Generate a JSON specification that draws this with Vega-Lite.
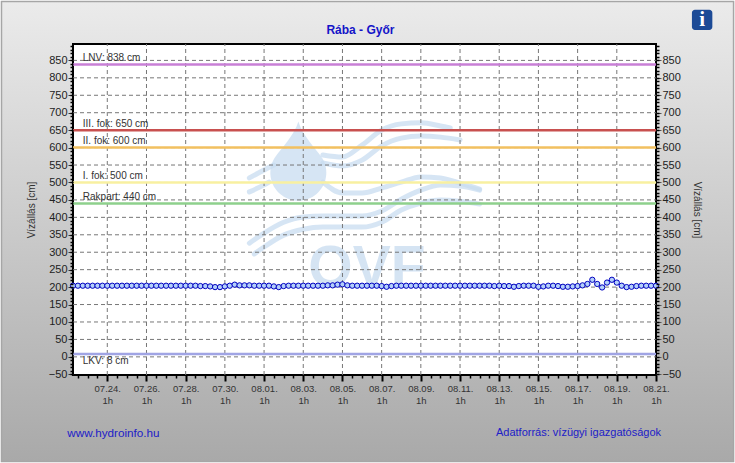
{
  "$schema": "https://vega.github.io/schema/vega-lite/v6.json",
  "width": 583,
  "height": 331,
  "autosize": "none",
  "padding": {"left": 73, "top": 44, "right": 79, "bottom": 88},
  "background": "#ffffff",
  "config": {
    "font": "Liberation Sans",
    "view": {"stroke": null},
    "axis": {"labelFont": "Liberation Sans", "titleFont": "Liberation Sans", "labelOverlap": false, "labelFlush": false, "domain": false, "grid": false}
  },
  "datasets": {
    "series": [
      {"t":"2023-07-22T07:00:00","v":204},{"t":"2023-07-22T13:00:00","v":204},{"t":"2023-07-22T19:00:00","v":204},
      {"t":"2023-07-23T01:00:00","v":204},{"t":"2023-07-23T07:00:00","v":204},{"t":"2023-07-23T13:00:00","v":204},{"t":"2023-07-23T19:00:00","v":204},
      {"t":"2023-07-24T01:00:00","v":204},{"t":"2023-07-24T07:00:00","v":204},{"t":"2023-07-24T13:00:00","v":204},{"t":"2023-07-24T19:00:00","v":204},
      {"t":"2023-07-25T01:00:00","v":204},{"t":"2023-07-25T07:00:00","v":204},{"t":"2023-07-25T13:00:00","v":204},{"t":"2023-07-25T19:00:00","v":204},
      {"t":"2023-07-26T01:00:00","v":204},{"t":"2023-07-26T07:00:00","v":204},{"t":"2023-07-26T13:00:00","v":204},{"t":"2023-07-26T19:00:00","v":204},
      {"t":"2023-07-27T01:00:00","v":204},{"t":"2023-07-27T07:00:00","v":204},{"t":"2023-07-27T13:00:00","v":204},{"t":"2023-07-27T19:00:00","v":204},
      {"t":"2023-07-28T01:00:00","v":204},{"t":"2023-07-28T07:00:00","v":204},{"t":"2023-07-28T13:00:00","v":204},{"t":"2023-07-28T19:00:00","v":203},
      {"t":"2023-07-29T01:00:00","v":203},{"t":"2023-07-29T07:00:00","v":202},{"t":"2023-07-29T13:00:00","v":200},{"t":"2023-07-29T19:00:00","v":200},
      {"t":"2023-07-30T01:00:00","v":202},{"t":"2023-07-30T07:00:00","v":204},{"t":"2023-07-30T13:00:00","v":207},{"t":"2023-07-30T19:00:00","v":205},
      {"t":"2023-07-31T01:00:00","v":205},{"t":"2023-07-31T07:00:00","v":205},{"t":"2023-07-31T13:00:00","v":204},{"t":"2023-07-31T19:00:00","v":204},
      {"t":"2023-08-01T01:00:00","v":204},{"t":"2023-08-01T07:00:00","v":204},{"t":"2023-08-01T13:00:00","v":202},{"t":"2023-08-01T19:00:00","v":200},
      {"t":"2023-08-02T01:00:00","v":203},{"t":"2023-08-02T07:00:00","v":204},{"t":"2023-08-02T13:00:00","v":204},{"t":"2023-08-02T19:00:00","v":204},
      {"t":"2023-08-03T01:00:00","v":204},{"t":"2023-08-03T07:00:00","v":204},{"t":"2023-08-03T13:00:00","v":204},{"t":"2023-08-03T19:00:00","v":204},
      {"t":"2023-08-04T01:00:00","v":204},{"t":"2023-08-04T07:00:00","v":205},{"t":"2023-08-04T13:00:00","v":205},{"t":"2023-08-04T19:00:00","v":207},
      {"t":"2023-08-05T01:00:00","v":208},{"t":"2023-08-05T07:00:00","v":205},{"t":"2023-08-05T13:00:00","v":204},{"t":"2023-08-05T19:00:00","v":204},
      {"t":"2023-08-06T01:00:00","v":204},{"t":"2023-08-06T07:00:00","v":204},{"t":"2023-08-06T13:00:00","v":204},{"t":"2023-08-06T19:00:00","v":204},
      {"t":"2023-08-07T01:00:00","v":203},{"t":"2023-08-07T07:00:00","v":201},{"t":"2023-08-07T13:00:00","v":203},{"t":"2023-08-07T19:00:00","v":204},
      {"t":"2023-08-08T01:00:00","v":204},{"t":"2023-08-08T07:00:00","v":204},{"t":"2023-08-08T13:00:00","v":204},{"t":"2023-08-08T19:00:00","v":204},
      {"t":"2023-08-09T01:00:00","v":204},{"t":"2023-08-09T07:00:00","v":204},{"t":"2023-08-09T13:00:00","v":204},{"t":"2023-08-09T19:00:00","v":204},
      {"t":"2023-08-10T01:00:00","v":204},{"t":"2023-08-10T07:00:00","v":204},{"t":"2023-08-10T13:00:00","v":204},{"t":"2023-08-10T19:00:00","v":204},
      {"t":"2023-08-11T01:00:00","v":204},{"t":"2023-08-11T07:00:00","v":204},{"t":"2023-08-11T13:00:00","v":204},{"t":"2023-08-11T19:00:00","v":204},
      {"t":"2023-08-12T01:00:00","v":204},{"t":"2023-08-12T07:00:00","v":204},{"t":"2023-08-12T13:00:00","v":204},{"t":"2023-08-12T19:00:00","v":203},
      {"t":"2023-08-13T01:00:00","v":204},{"t":"2023-08-13T07:00:00","v":203},{"t":"2023-08-13T13:00:00","v":203},{"t":"2023-08-13T19:00:00","v":201},
      {"t":"2023-08-14T01:00:00","v":203},{"t":"2023-08-14T07:00:00","v":204},{"t":"2023-08-14T13:00:00","v":204},{"t":"2023-08-14T19:00:00","v":204},
      {"t":"2023-08-15T01:00:00","v":201},{"t":"2023-08-15T07:00:00","v":202},{"t":"2023-08-15T13:00:00","v":204},{"t":"2023-08-15T19:00:00","v":204},
      {"t":"2023-08-16T01:00:00","v":203},{"t":"2023-08-16T07:00:00","v":201},{"t":"2023-08-16T13:00:00","v":201},{"t":"2023-08-16T19:00:00","v":202},
      {"t":"2023-08-17T01:00:00","v":203},{"t":"2023-08-17T07:00:00","v":205},{"t":"2023-08-17T13:00:00","v":209},{"t":"2023-08-17T19:00:00","v":221},
      {"t":"2023-08-18T01:00:00","v":209},{"t":"2023-08-18T07:00:00","v":199},{"t":"2023-08-18T13:00:00","v":213},{"t":"2023-08-18T19:00:00","v":221},
      {"t":"2023-08-19T01:00:00","v":213},{"t":"2023-08-19T07:00:00","v":204},{"t":"2023-08-19T13:00:00","v":200},{"t":"2023-08-19T19:00:00","v":201},
      {"t":"2023-08-20T01:00:00","v":203},{"t":"2023-08-20T07:00:00","v":204},{"t":"2023-08-20T13:00:00","v":204},{"t":"2023-08-20T19:00:00","v":204},
      {"t":"2023-08-21T01:00:00","v":204}
    ],
    "levels": [
      {"name":"LNV: 838 cm","v":838,"t":"2023-07-22T07:00:00","t2":"2023-08-21T01:00:00"},
      {"name":"III. fok: 650 cm","v":650,"t":"2023-07-22T07:00:00","t2":"2023-08-21T01:00:00"},
      {"name":"II. fok: 600 cm","v":600,"t":"2023-07-22T07:00:00","t2":"2023-08-21T01:00:00"},
      {"name":"I. fok: 500 cm","v":500,"t":"2023-07-22T07:00:00","t2":"2023-08-21T01:00:00"},
      {"name":"Rakpart: 440 cm","v":440,"t":"2023-07-22T07:00:00","t2":"2023-08-21T01:00:00"},
      {"name":"LKV: 8 cm","v":8,"t":"2023-07-22T07:00:00","t2":"2023-08-21T01:00:00"}
    ],
    "levelLabels": [
      {"name":"LNV: 838 cm","v":838,"t":"2023-07-22T19:00:00"},
      {"name":"III. fok: 650 cm","v":650,"t":"2023-07-22T19:00:00"},
      {"name":"II. fok: 600 cm","v":600,"t":"2023-07-22T19:00:00"},
      {"name":"I. fok: 500 cm","v":500,"t":"2023-07-22T19:00:00"},
      {"name":"Rakpart: 440 cm","v":440,"t":"2023-07-22T19:00:00"},
      {"name":"LKV: 8 cm","v":8,"t":"2023-07-22T19:00:00"}
    ],
    "gridY": [
      {"v":0,"t":"2023-07-22T07:00:00","t2":"2023-08-21T01:00:00"},{"v":50,"t":"2023-07-22T07:00:00","t2":"2023-08-21T01:00:00"},{"v":100,"t":"2023-07-22T07:00:00","t2":"2023-08-21T01:00:00"},{"v":150,"t":"2023-07-22T07:00:00","t2":"2023-08-21T01:00:00"},{"v":200,"t":"2023-07-22T07:00:00","t2":"2023-08-21T01:00:00"},{"v":250,"t":"2023-07-22T07:00:00","t2":"2023-08-21T01:00:00"},{"v":300,"t":"2023-07-22T07:00:00","t2":"2023-08-21T01:00:00"},{"v":350,"t":"2023-07-22T07:00:00","t2":"2023-08-21T01:00:00"},{"v":400,"t":"2023-07-22T07:00:00","t2":"2023-08-21T01:00:00"},{"v":450,"t":"2023-07-22T07:00:00","t2":"2023-08-21T01:00:00"},{"v":500,"t":"2023-07-22T07:00:00","t2":"2023-08-21T01:00:00"},{"v":550,"t":"2023-07-22T07:00:00","t2":"2023-08-21T01:00:00"},{"v":600,"t":"2023-07-22T07:00:00","t2":"2023-08-21T01:00:00"},{"v":650,"t":"2023-07-22T07:00:00","t2":"2023-08-21T01:00:00"},{"v":700,"t":"2023-07-22T07:00:00","t2":"2023-08-21T01:00:00"},{"v":750,"t":"2023-07-22T07:00:00","t2":"2023-08-21T01:00:00"},{"v":800,"t":"2023-07-22T07:00:00","t2":"2023-08-21T01:00:00"},{"v":850,"t":"2023-07-22T07:00:00","t2":"2023-08-21T01:00:00"}
    ],
    "gridX": [
      {"t":"2023-07-24T01:00:00","v":-52,"v2":897},{"t":"2023-07-26T01:00:00","v":-52,"v2":897},{"t":"2023-07-28T01:00:00","v":-52,"v2":897},{"t":"2023-07-30T01:00:00","v":-52,"v2":897},{"t":"2023-08-01T01:00:00","v":-52,"v2":897},{"t":"2023-08-03T01:00:00","v":-52,"v2":897},{"t":"2023-08-05T01:00:00","v":-52,"v2":897},{"t":"2023-08-07T01:00:00","v":-52,"v2":897},{"t":"2023-08-09T01:00:00","v":-52,"v2":897},{"t":"2023-08-11T01:00:00","v":-52,"v2":897},{"t":"2023-08-13T01:00:00","v":-52,"v2":897},{"t":"2023-08-15T01:00:00","v":-52,"v2":897},{"t":"2023-08-17T01:00:00","v":-52,"v2":897},{"t":"2023-08-19T01:00:00","v":-52,"v2":897}
    ],
    "waves": [
      {"w":"A","t":"2023-08-04T01:00:00","v":579},{"w":"A","t":"2023-08-05T01:00:00","v":573},{"w":"A","t":"2023-08-06T01:00:00","v":607},{"w":"A","t":"2023-08-07T01:00:00","v":650},{"w":"A","t":"2023-08-08T01:00:00","v":668},{"w":"A","t":"2023-08-09T01:00:00","v":671},{"w":"A","t":"2023-08-10T01:00:00","v":662},{"w":"A","t":"2023-08-10T13:00:00","v":656},
      {"w":"B","t":"2023-08-04T01:00:00","v":556},{"w":"B","t":"2023-08-05T01:00:00","v":547},{"w":"B","t":"2023-08-06T01:00:00","v":564},{"w":"B","t":"2023-08-07T01:00:00","v":605},{"w":"B","t":"2023-08-08T01:00:00","v":627},{"w":"B","t":"2023-08-09T01:00:00","v":633},{"w":"B","t":"2023-08-10T01:00:00","v":630},{"w":"B","t":"2023-08-11T01:00:00","v":622},
      {"w":"C","t":"2023-08-04T01:00:00","v":501},{"w":"C","t":"2023-08-05T01:00:00","v":470},{"w":"C","t":"2023-08-06T01:00:00","v":470},{"w":"C","t":"2023-08-07T01:00:00","v":484},{"w":"C","t":"2023-08-08T01:00:00","v":501},{"w":"C","t":"2023-08-09T01:00:00","v":516},{"w":"C","t":"2023-08-10T01:00:00","v":513},{"w":"C","t":"2023-08-11T01:00:00","v":498},{"w":"C","t":"2023-08-12T01:00:00","v":481},
      {"w":"D","t":"2023-07-31T07:00:00","v":326},{"w":"D","t":"2023-08-01T01:00:00","v":355},{"w":"D","t":"2023-08-02T01:00:00","v":386},{"w":"D","t":"2023-08-03T01:00:00","v":401},{"w":"D","t":"2023-08-04T01:00:00","v":404},{"w":"D","t":"2023-08-05T01:00:00","v":404},{"w":"D","t":"2023-08-06T01:00:00","v":404},{"w":"D","t":"2023-08-07T01:00:00","v":418},{"w":"D","t":"2023-08-08T01:00:00","v":452},{"w":"D","t":"2023-08-09T01:00:00","v":478},{"w":"D","t":"2023-08-10T01:00:00","v":493},{"w":"D","t":"2023-08-11T01:00:00","v":490},{"w":"D","t":"2023-08-12T01:00:00","v":478},
      {"w":"E","t":"2023-07-31T13:00:00","v":295},{"w":"E","t":"2023-08-01T01:00:00","v":315},{"w":"E","t":"2023-08-02T01:00:00","v":349},{"w":"E","t":"2023-08-03T01:00:00","v":366},{"w":"E","t":"2023-08-04T01:00:00","v":372},{"w":"E","t":"2023-08-05T01:00:00","v":372},{"w":"E","t":"2023-08-06T01:00:00","v":372},{"w":"E","t":"2023-08-07T01:00:00","v":386},{"w":"E","t":"2023-08-08T01:00:00","v":421},{"w":"E","t":"2023-08-09T01:00:00","v":441},{"w":"E","t":"2023-08-10T01:00:00","v":450},{"w":"E","t":"2023-08-11T01:00:00","v":446},{"w":"E","t":"2023-08-12T01:00:00","v":438},
      {"w":"F","t":"2023-07-31T07:00:00","v":513},{"w":"F","t":"2023-08-01T01:00:00","v":536},{"w":"F","t":"2023-08-01T13:00:00","v":550},
      {"w":"G","t":"2023-07-31T07:00:00","v":473},{"w":"G","t":"2023-08-01T01:00:00","v":493},{"w":"G","t":"2023-08-01T07:00:00","v":501}
    ]
  },
  "data": {"name": "series"},
  "encoding": {
    "x": {"field": "t", "type": "temporal", "scale": {"domain": ["2023-07-22T07:00:00", "2023-08-21T01:00:00"]}, "axis": null},
    "y": {"field": "v", "type": "quantitative", "scale": {"domain": [-52, 897], "nice": false, "zero": false}, "axis": null}
  },
  "layer": [
    {
      "data": {"values": [{"t": "2023-07-18T15:24:00", "t2": "2023-08-25T00:00:00", "v": 1019, "v2": -300}]},
      "mark": {"type": "rect", "stroke": "#a6a6a6", "strokeWidth": 1.5,
        "fill": {"gradient": "linear", "x1": 0, "y1": 0, "x2": 0, "y2": 1, "stops": [{"offset": 0, "color": "#ebebeb"}, {"offset": 1, "color": "#a9a9a9"}]}},
      "encoding": {"x2": {"field": "t2"}, "y2": {"field": "v2"}}
    },
    {
      "data": {"values": [{"t": "2023-07-22T07:00:00", "t2": "2023-08-21T01:00:00", "v": 897, "v2": -52}]},
      "mark": {"type": "rect", "fill": "#ffffff", "stroke": "#000000", "strokeWidth": 2},
      "encoding": {"x2": {"field": "t2"}, "y2": {"field": "v2"}}
    },
    {
      "data": {"name": "waves"},
      "mark": {"type": "line", "stroke": "#c8dcf0", "opacity": 0.75, "strokeWidth": 5, "interpolate": "monotone", "strokeCap": "round"},
      "encoding": {
        "detail": {"field": "w"},
        "x": {"field": "t", "type": "temporal", "scale": {"domain": ["2023-07-22T07:00:00", "2023-08-21T01:00:00"]},
          "axis": {"orient": "bottom", "title": null, "zindex": 1,
            "values": ["2023-07-24T01:00:00","2023-07-26T01:00:00","2023-07-28T01:00:00","2023-07-30T01:00:00","2023-08-01T01:00:00","2023-08-03T01:00:00","2023-08-05T01:00:00","2023-08-07T01:00:00","2023-08-09T01:00:00","2023-08-11T01:00:00","2023-08-13T01:00:00","2023-08-15T01:00:00","2023-08-17T01:00:00","2023-08-19T01:00:00","2023-08-21T01:00:00"],
            "labelExpr": "[timeFormat(datum.value, '%m.%d.'), '1h']", "labelLineHeight": 12, "labelFontSize": 9.5, "labelColor": "#333333", "labelPadding": 2, "labelBaseline": "top",
            "tickSize": 6, "tickWidth": 2, "tickColor": "#000000"}},
        "y": {"field": "v", "type": "quantitative", "scale": {"domain": [-52, 897], "nice": false, "zero": false},
          "axis": {"orient": "left", "title": "Vízállás [cm]", "zindex": 1, "titleFontSize": 10, "titleFontWeight": "normal", "titleColor": "#333333", "titleX": -42, "titleY": 165.5, "titleBaseline": "middle",
            "values": [-50,0,50,100,150,200,250,300,350,400,450,500,550,600,650,700,750,800,850], "format": "d", "labelFontSize": 11, "labelColor": "#222222", "labelPadding": 1, "tickSize": 5, "tickWidth": 1, "tickColor": "#333333"}}
      }
    },
    {
      "data": {"values": [{"t": "2023-08-02T19:00:00", "v": 530}]},
      "mark": {"type": "point", "filled": true, "fill": "#c8dcf0", "opacity": 0.75, "stroke": null, "size": 3136, "shape": "M0,-1.8 C0.15,-1.3 0.6,-0.85 0.85,-0.5 A1,1 0 1 1 -0.85,-0.5 C-0.6,-0.85 -0.15,-1.3 0,-1.8 Z"},
      "encoding": {
        "x": {"field": "t", "type": "temporal", "scale": {"domain": ["2023-07-22T07:00:00", "2023-08-21T01:00:00"]},
          "axis": {"orient": "bottom", "title": null, "zindex": 1, "labels": false, "tickSize": 3, "tickWidth": 1.5, "tickColor": "#000000",
            "values": ["2023-07-22T13:00:00","2023-07-23T01:00:00","2023-07-23T13:00:00","2023-07-24T13:00:00","2023-07-25T01:00:00","2023-07-25T13:00:00","2023-07-26T13:00:00","2023-07-27T01:00:00","2023-07-27T13:00:00","2023-07-28T13:00:00","2023-07-29T01:00:00","2023-07-29T13:00:00","2023-07-30T13:00:00","2023-07-31T01:00:00","2023-07-31T13:00:00","2023-08-01T13:00:00","2023-08-02T01:00:00","2023-08-02T13:00:00","2023-08-03T13:00:00","2023-08-04T01:00:00","2023-08-04T13:00:00","2023-08-05T13:00:00","2023-08-06T01:00:00","2023-08-06T13:00:00","2023-08-07T13:00:00","2023-08-08T01:00:00","2023-08-08T13:00:00","2023-08-09T13:00:00","2023-08-10T01:00:00","2023-08-10T13:00:00","2023-08-11T13:00:00","2023-08-12T01:00:00","2023-08-12T13:00:00","2023-08-13T13:00:00","2023-08-14T01:00:00","2023-08-14T13:00:00","2023-08-15T13:00:00","2023-08-16T01:00:00","2023-08-16T13:00:00","2023-08-17T13:00:00","2023-08-18T01:00:00","2023-08-18T13:00:00","2023-08-19T13:00:00","2023-08-20T01:00:00","2023-08-20T13:00:00"]}},
        "y": {"field": "v", "type": "quantitative", "scale": {"domain": [-52, 897], "nice": false, "zero": false},
          "axis": {"orient": "right", "title": "Vízállás [cm]", "zindex": 1, "titleFontSize": 10, "titleFontWeight": "normal", "titleColor": "#333333", "titleAngle": 90, "titleX": 40, "titleY": 165.5, "titleBaseline": "middle",
            "values": [-50,0,50,100,150,200,250,300,350,400,450,500,550,600,650,700,750,800,850], "format": "d", "labelFontSize": 11, "labelColor": "#222222", "labelPadding": 1, "tickSize": 5, "tickWidth": 1, "tickColor": "#555555"}}
      }
    },
    {
      "data": {"values": [{"label": "OVF", "t": "2023-08-06T07:00:00", "v": 203}]},
      "mark": {"type": "text", "fontSize": 57, "fontWeight": "bold", "fill": "#c8dcf0", "opacity": 0.75, "align": "center", "baseline": "alphabetic"},
      "encoding": {
        "text": {"field": "label"},
        "y": {"field": "v", "type": "quantitative", "scale": {"domain": [-52, 897], "nice": false, "zero": false},
          "axis": {"orient": "left", "title": null, "zindex": 1, "labels": false, "tickSize": 3, "tickWidth": 1.5, "tickColor": "#000000",
            "values": [-50,-40,-30,-20,-10,0,10,20,30,40,50,60,70,80,90,100,110,120,130,140,150,160,170,180,190,200,210,220,230,240,250,260,270,280,290,300,310,320,330,340,350,360,370,380,390,400,410,420,430,440,450,460,470,480,490,500,510,520,530,540,550,560,570,580,590,600,610,620,630,640,650,660,670,680,690,700,710,720,730,740,750,760,770,780,790,800,810,820,830,840,850,860,870,880,890]}}
      }
    },
    {
      "data": {"name": "gridY"},
      "mark": {"type": "rule", "stroke": "#777777", "strokeWidth": 1, "strokeDash": [4, 3]},
      "encoding": {"x2": {"field": "t2"}}
    },
    {
      "data": {"name": "gridX"},
      "mark": {"type": "rule", "stroke": "#777777", "strokeWidth": 1, "strokeDash": [4, 3]},
      "encoding": {"y2": {"field": "v2"}}
    },
    {
      "data": {"name": "levels"},
      "mark": {"type": "rule", "strokeWidth": 2.5},
      "encoding": {
        "x2": {"field": "t2"},
        "color": {"field": "name", "type": "nominal", "legend": null,
          "scale": {"domain": ["LNV: 838 cm","III. fok: 650 cm","II. fok: 600 cm","I. fok: 500 cm","Rakpart: 440 cm","LKV: 8 cm"], "range": ["#c87fd6","#c8504f","#f2c060","#f8f0a0","#8ed08c","#a0a4e4"]}},
        "y": {"field": "v", "type": "quantitative", "scale": {"domain": [-52, 897], "nice": false, "zero": false},
          "axis": {"orient": "right", "title": null, "zindex": 1, "labels": false, "tickSize": 3, "tickWidth": 1.5, "tickColor": "#000000",
            "values": [-50,-40,-30,-20,-10,0,10,20,30,40,50,60,70,80,90,100,110,120,130,140,150,160,170,180,190,200,210,220,230,240,250,260,270,280,290,300,310,320,330,340,350,360,370,380,390,400,410,420,430,440,450,460,470,480,490,500,510,520,530,540,550,560,570,580,590,600,610,620,630,640,650,660,670,680,690,700,710,720,730,740,750,760,770,780,790,800,810,820,830,840,850,860,870,880,890]}}
      }
    },
    {
      "data": {"name": "levelLabels"},
      "transform": [{"filter": "datum.v > 8"}],
      "mark": {"type": "text", "fontSize": 10, "fill": "#333333", "align": "left", "baseline": "middle", "dy": -6.5},
      "encoding": {"text": {"field": "name"}}
    },
    {
      "data": {"name": "levelLabels"},
      "transform": [{"filter": "datum.v == 8"}],
      "mark": {"type": "text", "fontSize": 10, "fill": "#333333", "align": "left", "baseline": "middle", "dy": 6.7},
      "encoding": {"text": {"field": "name"}}
    },
    {
      "mark": {"type": "line", "stroke": "#0000c0", "strokeWidth": 1}
    },
    {
      "mark": {"type": "point", "filled": true, "fill": "#b4d0fa", "stroke": "#0000c0", "strokeWidth": 1, "opacity": 1, "size": 28, "shape": "circle"}
    },
    {
      "data": {"values": [{"label": "Rába - Győr", "t": "2023-08-05T23:00:00", "v": 937}]},
      "mark": {"type": "text", "fontSize": 12, "fontWeight": "bold", "fill": "#1414c8", "align": "center", "baseline": "middle"},
      "encoding": {"text": {"field": "label"}}
    },
    {
      "data": {"values": [{"label": "www.hydroinfo.hu", "t": "2023-07-22T00:00:00", "v": -218}]},
      "mark": {"type": "text", "fontSize": 11.7, "fill": "#2020c8", "align": "left", "baseline": "middle"},
      "encoding": {"text": {"field": "label"}}
    },
    {
      "data": {"values": [{"label": "Adatforrás: vízügyi igazgatóságok", "t": "2023-08-12T21:00:00", "v": -218}]},
      "mark": {"type": "text", "fontSize": 11, "fill": "#2020c8", "align": "left", "baseline": "middle"},
      "encoding": {"text": {"field": "label"}}
    },
    {
      "data": {"values": [{"t": "2023-08-22T21:00:00", "t2": "2023-08-23T22:00:00", "v": 995, "v2": 937}]},
      "mark": {"type": "rect", "fill": "#1c4a96", "cornerRadius": 3},
      "encoding": {"x2": {"field": "t2"}, "y2": {"field": "v2"}}
    },
    {
      "data": {"values": [{"label": "i", "t": "2023-08-23T09:30:00", "v": 966}]},
      "mark": {"type": "text", "font": "Liberation Serif", "fontSize": 21, "fontWeight": "bold", "fill": "#ffffff", "align": "center", "baseline": "middle"},
      "encoding": {"text": {"field": "label"}}
    }
  ],
  "resolve": {"axis": {"x": "independent", "y": "independent"}}
}
